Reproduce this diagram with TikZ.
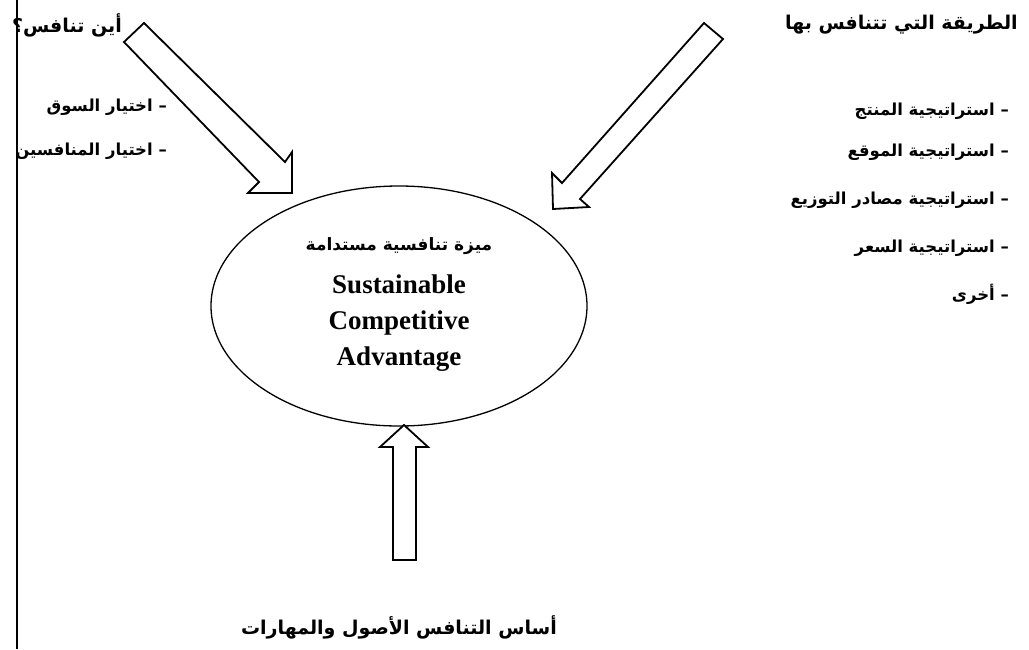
\documentclass[tikz,border=0pt]{standalone}
\usepackage{fontspec}
\setmainfont{Liberation Serif}
\newfontfamily\arfont[Script=Arabic]{DejaVu Sans}
\TeXXeTstate=1
\usetikzlibrary{shapes.geometric}
\newcommand\artext[1]{\beginR #1\endR}
\begin{document}
\begin{tikzpicture}[x=1pt,y=-1pt,
  arlabel/.style={inner sep=0pt, anchor=east, font=\arfont\bfseries\fontsize{16.5}{19}\selectfont},
  arhead/.style={inner sep=0pt, font=\arfont\bfseries\fontsize{19}{23}\selectfont},
  entext/.style={inner sep=0pt, anchor=base, font=\bfseries\fontsize{27}{32}\selectfont},
  blockarrow/.style={draw=black, line width=1.8pt, line join=miter, fill=white},
  core/.style={draw=black, line width=1.3pt, ellipse, minimum width=376pt, minimum height=240pt, inner sep=0pt}]
\useasboundingbox (0,0) rectangle (1029,649);

% margin rule on the left
\draw[line width=1.2pt] (17,0) -- (17,649);

% central ellipse and its caption
\node[core] (core) at (399,306) {};
\node[inner sep=0pt, anchor=base, font=\arfont\bfseries\fontsize{17}{20}\selectfont] (coreAr) at (399,250) {\artext{ميزة تنافسية مستدامة}};
\node[entext] (coreA) at (399,293) {Sustainable};
\node[entext] (coreB) at (399,329) {Competitive};
\node[entext] (coreC) at (399,365) {Advantage};

% where to compete
\node[arhead, anchor=east] (where) at (122,25) {\artext{أين تنافس؟}};
\node[arlabel] (market) at (167,107) {\artext{– اختيار السوق}};
\node[arlabel] (rivals) at (167,151) {\artext{– اختيار المنافسين}};

% how to compete
\node[arhead, anchor=east] (how) at (1018,25) {\artext{الطريقة التي تتنافس بها}};
\node[arlabel] (s1) at (1009,111) {\artext{– استراتيجية المنتج}};
\node[arlabel] (s2) at (1009,152) {\artext{– استراتيجية الموقع}};
\node[arlabel] (s3) at (1009,200) {\artext{– استراتيجية مصادر التوزيع}};
\node[arlabel] (s4) at (1009,248) {\artext{– استراتيجية السعر}};
\node[arlabel] (s5) at (1009,294) {\artext{– أخرى}};

% basis of competition
\node[arhead] (basis) at (399,627) {\artext{أساس التنافس الأصول والمهارات}};

% block arrows pointing at the ellipse
\draw[blockarrow] (144,23) -- (285,162) -- (292,152) -- (292,193) -- (248,193) -- (259,182) -- (124,42) -- cycle;
\draw[blockarrow] (704,23) -- (723,39) -- (580,199) -- (589,207) -- (553,209) -- (552,173) -- (562,183) -- cycle;
\draw[blockarrow] (404,425) -- (428,447) -- (416,447) -- (416,560) -- (393,560) -- (393,447) -- (380,447) -- cycle;
\end{tikzpicture}
\end{document}
